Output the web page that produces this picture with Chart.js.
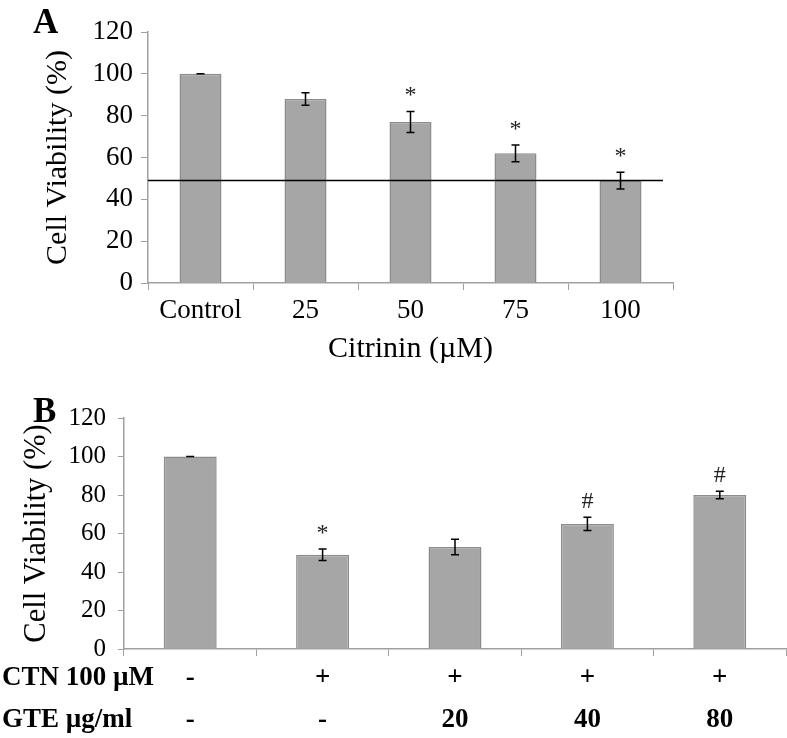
<!DOCTYPE html>
<html><head><meta charset="utf-8">
<script src="https://cdn.jsdelivr.net/npm/chart.js@4.4.1/dist/chart.umd.min.js"></script>
<style>
html,body{margin:0;padding:0;background:#fff;}
#wrapA{position:absolute;left:0;top:0;width:787px;height:370px;}
#wrapB{position:absolute;left:0;top:370px;width:787px;height:368px;}
</style></head><body>
<div id="wrapA"><canvas id="chartA"></canvas></div>
<div id="wrapB"><canvas id="chartB"></canvas></div>
<script>
// ---- data ----
const categoriesA = ["Control", "25", "50", "75", "100"];
const valuesA = [100, 88, 77, 62, 49];
const errorsA = [0, 3, 5, 4, 4];
const marksA = ["", "", "*", "*", "*"];
const referenceLineA = 49;
const xTitleA = "Citrinin (µM)";

const categoriesB = [["-", "-"], ["+", "-"], ["+", "20"], ["+", "40"], ["+", "80"]];
const valuesB = [100, 49, 53, 65, 80];
const errorsB = [0, 3, 4, 3.5, 2];
const marksB = ["", "*", "", "#", "#"];
const rowLabelsB = ["CTN 100 µM", "GTE µg/ml"];

const yTitle = "Cell Viability (%)";
const yMin = 0, yMax = 120, yStep = 20;

const SERIF = "'Liberation Serif', 'Times New Roman', serif";
const AXIS = '#a0a0a0';

function overlayPlugin(values, errors, marks, letter, opts) {
  return {
    id: 'overlay' + letter,
    afterDatasetsDraw(chart) {
      const ctx = chart.ctx, xs = chart.scales.x, ys = chart.scales.y, ca = chart.chartArea;
      ctx.save();
      // reference line
      if (opts.refLine !== undefined) {
        const y = ys.getPixelForValue(opts.refLine);
        ctx.strokeStyle = '#000'; ctx.lineWidth = 1.5;
        ctx.beginPath(); ctx.moveTo(ca.left, y); ctx.lineTo(ca.right - 10, y); ctx.stroke();
      }
      // error bars
      ctx.strokeStyle = '#000'; ctx.lineWidth = 1.5;
      values.forEach((v, i) => {
        const x = xs.getPixelForValue(i);
        const yt = ys.getPixelForValue(v + errors[i]);
        const yb = ys.getPixelForValue(v - errors[i]);
        ctx.beginPath();
        ctx.moveTo(x, yt); ctx.lineTo(x, yb);
        ctx.moveTo(x - 4, yt); ctx.lineTo(x + 4, yt);
        ctx.moveTo(x - 4, yb); ctx.lineTo(x + 4, yb);
        ctx.stroke();
        if (marks[i]) {
          ctx.fillStyle = '#222';
          ctx.font = '24px ' + SERIF;
          ctx.textAlign = 'center'; ctx.textBaseline = 'alphabetic';
          ctx.fillText(marks[i], x, yt - 9);
        }
      });
      // panel letter
      ctx.fillStyle = '#000';
      ctx.font = 'bold 35px ' + SERIF;
      ctx.textAlign = 'left'; ctx.textBaseline = 'alphabetic';
      ctx.fillText(letter, opts.letterX, opts.letterY);
      // row labels
      if (opts.rows) {
        ctx.font = 'bold 27px ' + SERIF;
        ctx.textBaseline = 'middle';
        opts.rows.forEach((t, r) => {
          ctx.fillText(t, 2, ca.bottom + 29 + r * 42);
        });
      }
      ctx.restore();
    }
  };
}

function makeChart(id, cats, values, cfg) {
  return new Chart(document.getElementById(id), {
    type: 'bar',
    data: {
      labels: cats,
      datasets: [{
        data: values,
        backgroundColor: '#a6a6a6',
        borderColor: '#8c8c8c',
        borderWidth: 1.5,
        categoryPercentage: 1,
        barPercentage: 0.4
      }]
    },
    options: {
      responsive: true,
      maintainAspectRatio: false,
      animation: false,
      layout: { padding: cfg.padding },
      plugins: { legend: { display: false }, tooltip: { enabled: false } },
      scales: {
        x: {
          grid: { display: true, drawOnChartArea: false, drawTicks: true, tickLength: 7, color: AXIS, offset: true },
          border: { display: true, color: AXIS, width: 1.5 },
          ticks: { color: '#000', font: cfg.xFont, padding: cfg.xPad, maxRotation: 0, autoSkip: false },
          title: cfg.xTitle ? { display: true, text: cfg.xTitle, color: '#000', font: { family: SERIF, size: 30 }, padding: { top: 0, bottom: 0 } } : { display: false },
          afterFit: s => { s.height = cfg.xHeight; }
        },
        y: {
          min: yMin, max: yMax,
          grid: { display: true, drawOnChartArea: false, drawTicks: true, tickLength: cfg.yTickLen, color: AXIS },
          border: { display: true, color: AXIS, width: 1.5 },
          ticks: { stepSize: yStep, color: '#000', font: { family: SERIF, size: cfg.yTickSize }, padding: cfg.yTickPad },
          title: { display: true, text: yTitle, color: '#000', font: { family: SERIF, size: cfg.yTitleSize }, padding: { top: cfg.yTitlePad, bottom: 0 } },
          afterFit: s => { s.width = cfg.yWidth; }
        }
      }
    },
    plugins: [cfg.plugin]
  });
}

makeChart('chartA', categoriesA, valuesA, {
  padding: { top: 32, right: 114, bottom: 3, left: 0 },
  xFont: { family: SERIF, size: 27 },
  xPad: 5,
  xTitle: xTitleA,
  xHeight: 84,
  yWidth: 148,
  yTickLen: 7,
  yTickPad: 8,
  yTickSize: 27,
  yTitleSize: 30,
  yTitlePad: 40,
  plugin: overlayPlugin(valuesA, errorsA, marksA, 'A', { refLine: referenceLineA, letterX: 33, letterY: 33 })
});

makeChart('chartB', categoriesB, valuesB, {
  padding: { top: 48, right: 1, bottom: 1, left: 0 },
  xFont: { family: SERIF, size: 27, weight: 'bold', lineHeight: '42px' },
  xPad: 1,
  xTitle: null,
  xHeight: 88,
  yWidth: 124,
  yTickLen: 6,
  yTickPad: 12,
  yTickSize: 25,
  yTitleSize: 30.5,
  yTitlePad: 19,
  plugin: overlayPlugin(valuesB, errorsB, marksB, 'B', { rows: rowLabelsB, letterX: 33, letterY: 52 })
});
</script>
</body></html>
